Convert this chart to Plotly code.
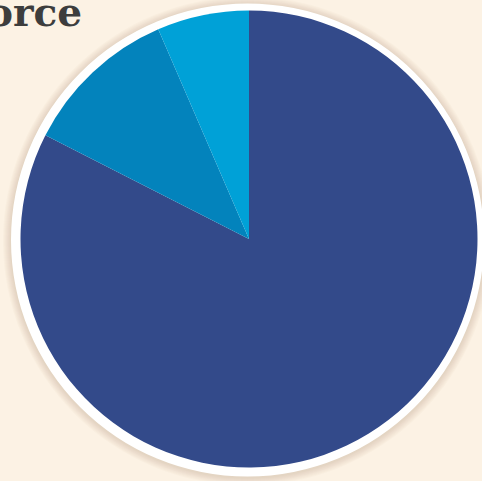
import plotly.graph_objects as go

# Data
categories = ["Group A", "Group B", "Group C"]
values = [82.5, 11.0, 6.5]
colors = ["#334A8A", "#0383BC", "#00A1D7"]
title_text = "Workforce"

W, H = 482, 481
BG = "#FCF2E4"

cx, cy, r = 249.0, 239.0, 228.5  # pixel geometry of the pie


def px_x(x):
    return x / W


def px_y(y):
    return (H - y) / H


fig = go.Figure(
    go.Pie(
        labels=categories,
        values=values,
        marker=dict(colors=colors, line=dict(width=0)),
        sort=False,
        direction="clockwise",
        rotation=0,
        textinfo="none",
        hoverinfo="label+percent",
        domain=dict(x=[px_x(cx - r), px_x(cx + r)], y=[px_y(cy + r), px_y(cy - r)]),
    )
)

shapes = []
# soft shadow
wcx, wcy, wr = 247.5, 240.0, 236.5
for k in range(8, 0, -1):
    rr = wr + k
    shapes.append(dict(
        type="circle", xref="paper", yref="paper", layer="below",
        x0=px_x(wcx - rr), x1=px_x(wcx + rr), y0=px_y(wcy + rr + 1), y1=px_y(wcy - rr + 1),
        fillcolor="#A08A6A", opacity=0.03, line=dict(width=0),
    ))
# white rim
shapes.append(dict(
    type="circle", xref="paper", yref="paper", layer="below",
    x0=px_x(wcx - wr), x1=px_x(wcx + wr), y0=px_y(wcy + wr), y1=px_y(wcy - wr),
    fillcolor="#FFFFFF", line=dict(width=0),
))

fig.update_layout(
    width=W, height=H,
    margin=dict(l=0, r=0, t=0, b=0),
    paper_bgcolor=BG,
    plot_bgcolor=BG,
    showlegend=False,
    shapes=shapes,
    annotations=[dict(
        text="<b>" + title_text + "</b>",
        xref="paper", yref="paper",
        x=px_x(84), y=px_y(-13),
        xanchor="right", yanchor="top",
        showarrow=False,
        font=dict(family="DejaVu Serif", size=39, color="#3D3D3D"),
    )],
)

fig.write_html(
    "out.html",
    config={"displayModeBar": False},
    post_script="document.body.style.margin='0';document.body.style.background='" + BG + "';",
)
